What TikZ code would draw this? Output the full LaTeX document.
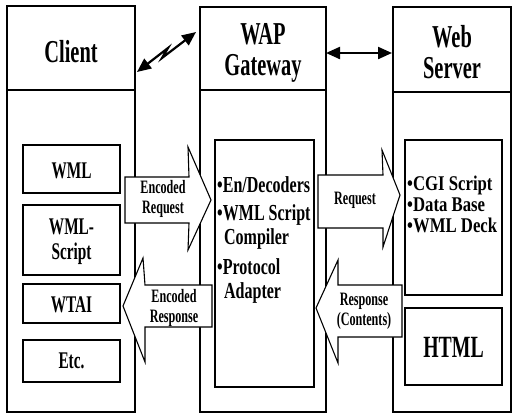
\documentclass[tikz,border=0pt]{standalone}
\usepackage{fontspec}
\usetikzlibrary{arrows.meta}
\newfontfamily\cA[FakeStretch=0.64]{Liberation Serif Bold}
\newfontfamily\cB[FakeStretch=0.7]{Liberation Serif Bold}
\newfontfamily\cC[FakeStretch=0.8]{Liberation Serif Bold}
\begin{document}
\begin{tikzpicture}[x=1bp,y=-1bp,
  colbox/.style={draw, line width=1.3bp, inner sep=0, outer sep=0},
  inbox/.style={draw, line width=1.2bp, inner sep=0, outer sep=0, minimum width=97bp},
  blk/.style={draw, fill=white, line width=1.1bp, line join=miter},
  hdr/.style={font=\cA\fontsize{32}{31}\selectfont, inner sep=0, align=center},
  lbl/.style={font=\cA\fontsize{24}{25}\selectfont, inner sep=0, align=center},
  htm/.style={font=\cA\fontsize{31}{30}\selectfont, inner sep=0},
  sml/.style={font=\cA\fontsize{19}{20}\selectfont, inner sep=0, align=center},
  bul/.style={font=\cB\fontsize{23}{24}\selectfont, inner sep=0, anchor=west, align=left},
  wbul/.style={font=\cC\fontsize{21}{21}\selectfont, inner sep=0, anchor=west, align=left},
  link/.style={line width=2.2bp, {Triangle[length=14bp,width=12bp]}-{Triangle[length=14bp,width=12bp]}}]
\useasboundingbox (0,0) rectangle (513,414);
% columns
\node[colbox, minimum width=128bp, minimum height=406bp] (client) at (71,209) {};
\node[colbox, minimum width=126bp, minimum height=405bp] (wap) at (263,209.5) {};
\node[colbox, minimum width=118bp, minimum height=405bp] (web) at (452,209.5) {};
\draw[line width=1.3bp] (client.west |- 0,90) -- (client.east |- 0,90);
\draw[line width=1.3bp] (wap.west |- 0,90) -- (wap.east |- 0,90);
\draw[line width=1.3bp] (web.west |- 0,92) -- (web.east |- 0,92);
% inner boxes
\node[inbox, minimum height=48bp] (wml) at (71.5,169) {};
\node[inbox, minimum height=70bp] (wmls) at (71.5,240) {};
\node[inbox, minimum height=39bp] (wtai) at (71.5,303.5) {};
\node[inbox, minimum height=42bp] (etc) at (71.5,361) {};
\node[inbox, minimum height=247bp, minimum width=99bp] (gw) at (264.5,263.5) {};
\node[inbox, minimum height=155bp] (srv) at (453.5,217.5) {};
\node[inbox, minimum height=77bp] (html) at (453.5,346.5) {};
% block arrows
\draw[blk] (125,177) -- (189,177) -- (188,147) -- (211,200) -- (188,250) -- (189,223) -- (125,223) -- cycle;
\draw[blk] (212,285) -- (145,285) -- (143,258) -- (123,306) -- (145,362) -- (145,327) -- (212,327) -- cycle;
\draw[blk] (318,175) -- (383,175) -- (382,150) -- (400,195) -- (383,247) -- (383,228) -- (318,228) -- cycle;
\draw[blk] (402,285) -- (338,285) -- (338,260) -- (316,308) -- (338,363) -- (338,337) -- (402,337) -- cycle;
% links
\coordinate (w1) at (137,72);
\coordinate (w2) at (196,32);
\draw[link, line join=miter] (w1) -- (168,48) -- (162,58) -- (w2);
\coordinate (d1) at (326,53);
\coordinate (d2) at (392,53);
\draw[link] (d1) -- (d2);
% headers
\node[hdr] (tclient) at (71,52) {Client};
\node[hdr] (twap) at (263,53) {WAP\\Gateway};
\node[hdr] (tweb) at (452,52) {Web\\Server};
% client labels
\node[lbl] (twml) at (71.5,171) {WML};
\node[lbl] (twmls) at (71.5,242) {WML-\\Script};
\node[lbl] (twtai) at (71.5,305) {WTAI};
\node[lbl] (tetc) at (71.5,361) {Etc.};
% arrow labels
\node[sml] (ter) at (163,199) {Encoded\\Request};
\node[sml] (tersp) at (174,308) {Encoded\\Response};
\node[sml] (treq) at (355,200) {Request};
\node[sml] (tresp) at (364,311) {Response\\(Contents)};
% gateway bullets
\node[bul] (b1) at (217,185) {•En/Decoders};
\node[bul] (b2) at (217,227) {•WML Script\\\hspace*{0.3em}Compiler};
\node[bul] (b3) at (217,281) {•Protocol\\\hspace*{0.3em}Adapter};
% server bullets
\node[wbul] (s1) at (407,204) {•CGI Script\\•Data Base\\•WML Deck};
\node[htm] (thtml) at (453.5,347) {HTML};
\end{tikzpicture}
\end{document}
